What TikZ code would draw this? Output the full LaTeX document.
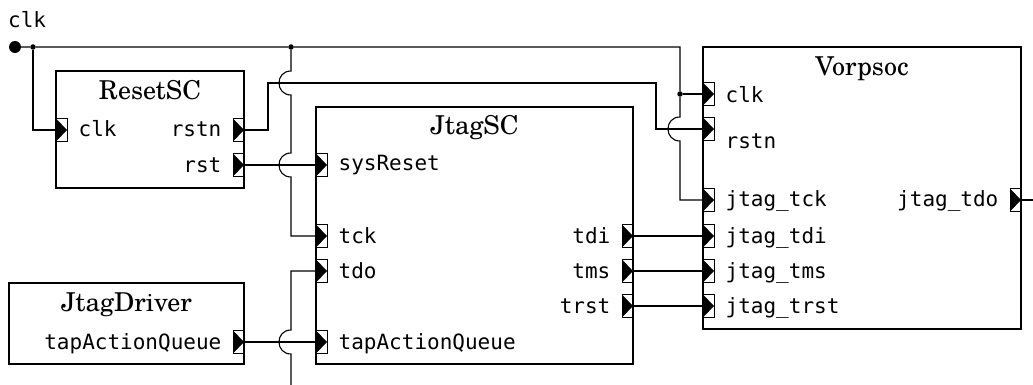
\documentclass[tikz,border=0pt]{standalone}
\usepackage{fontspec}
\setmonofont{DejaVu Sans Mono}
\newfontfamily\schola{TeX Gyre Schola}
\usetikzlibrary{positioning}

\begin{document}
\begin{tikzpicture}[x=1pt, y=-1pt,
	block/.style={draw, rectangle, inner sep=0pt, line width=1.1pt},
	port/.style={draw, rectangle, inner sep=0pt, minimum width=11pt, minimum height=23pt, line width=0.9pt,
		path picture={\fill (path picture bounding box.north west) -- (path picture bounding box.east) -- (path picture bounding box.south west) -- cycle;}},
	wire/.style={line width=1.1pt},
	title/.style={anchor=base, inner sep=0pt, font=\schola\fontsize{26}{30}\selectfont},
	sig/.style={inner sep=0pt, font=\ttfamily\fontsize{21}{25}\selectfont},
	joint/.style={circle, fill, inner sep=0pt, minimum size=5.5pt},
	bigdot/.style={circle, fill, inner sep=0pt, minimum size=12pt}]
	\useasboundingbox (0,0) rectangle (1033,385);

	% blocks
	\node[block, minimum width=188pt, minimum height=117pt] (rs) at (150,129.5) {};
	\node[block, minimum width=317pt, minimum height=257pt] (js) at (474.5,235.5) {};
	\node[block, minimum width=318pt, minimum height=282pt] (vp) at (862,188) {};
	\node[block, minimum width=235pt, minimum height=81pt] (jd) at (126.5,323.5) {};
	\node[title] (rs-title) at ([yshift=-29pt]rs.north) {ResetSC};
	\node[title] (js-title) at ([yshift=-28pt]js.north) {JtagSC};
	\node[title] (vp-title) at ([yshift=-29pt]vp.north) {Vorpsoc};
	\node[title] (jd-title) at ([yshift=-29pt]jd.north) {JtagDriver};

	% ports
	\node[port] (rs-clk) at (61.5,130) {};
	\node[port] (rs-rstn) at (238.5,130) {};
	\node[port] (rs-rst) at (238.5,165) {};
	\node[port] (js-sys) at (321.5,165) {};
	\node[port] (js-tck) at (321.5,236) {};
	\node[port] (js-tdo) at (321.5,271) {};
	\node[port] (js-tap) at (321.5,342) {};
	\node[port] (js-tdi) at (627.5,236) {};
	\node[port] (js-tms) at (627.5,271) {};
	\node[port] (js-trst) at (627.5,306) {};
	\node[port] (vp-clk) at (708.5,94) {};
	\node[port] (vp-rstn) at (708.5,129) {};
	\node[port] (vp-tck) at (708.5,200) {};
	\node[port] (vp-tdi) at (708.5,236) {};
	\node[port] (vp-tms) at (708.5,271) {};
	\node[port] (vp-trst) at (708.5,306) {};
	\node[port] (vp-tdo) at (1015.5,200) {};
	\node[port] (jd-tap) at (238.5,342) {};

	% port labels
	\node[sig, base right=11pt of rs-clk, yshift=-7pt] {clk};
	\node[sig, base left=11pt of rs-rstn, yshift=-7pt] {rstn};
	\node[sig, base left=11pt of rs-rst, yshift=-7pt] {rst};
	\node[sig, base right=11pt of js-sys, yshift=-6pt] {sysReset};
	\node[sig, base right=11pt of js-tck, yshift=-7pt] {tck};
	\node[sig, base right=11pt of js-tdo, yshift=-7pt] {tdo};
	\node[sig, base right=11pt of js-tap, yshift=-7pt] {tapActionQueue};
	\node[sig, base left=11pt of js-tdi, yshift=-7pt] {tdi};
	\node[sig, base left=11pt of js-tms, yshift=-7pt] {tms};
	\node[sig, base left=11pt of js-trst, yshift=-7pt] {trst};
	\node[sig, base right=11pt of vp-clk, yshift=-9pt] {clk};
	\node[sig, base right=11pt of vp-rstn, yshift=-19pt] {rstn};
	\node[sig, base right=11pt of vp-tck, yshift=-6pt] {jtag\_tck};
	\node[sig, base right=11pt of vp-tdi, yshift=-7pt] {jtag\_tdi};
	\node[sig, base right=11pt of vp-tms, yshift=-7pt] {jtag\_tms};
	\node[sig, base right=11pt of vp-trst, yshift=-7pt] {jtag\_trst};
	\node[sig, base left=11pt of vp-tdo, yshift=-6pt] {jtag\_tdo};
	\node[sig, base left=11pt of jd-tap, yshift=-7pt] {tapActionQueue};

	% clock input and joints
	\node[sig, anchor=base west] (clk-lbl) at (8,28) {clk};
	\node[bigdot] (clk) at (15,47) {};
	\node[joint] (j1) at (33,47) {};
	\node[joint] (j2) at (291,47) {};
	\node[joint] (j3) at (680,94) {};
	\coordinate (tdo-end) at (291,385);
	\coordinate (tdo-out) at (1033,200);

	% wires
	\draw[wire] (clk) -- (j1) -- (j2) -- (680,47) -- (j3) -- (680,117) .. controls (664,117) and (664,141) .. (680,141) |- (vp-tck.west);
	\draw[wire] (j3) -- (vp-clk.west);
	\draw[wire] (j1) |- (rs-clk.west);
	\draw[wire] (j2) -- (291,71) .. controls (275,71) and (275,95) .. (291,95) -- (291,153) .. controls (275,153) and (275,177) .. (291,177) |- (js-tck.west);
	\draw[wire] (rs-rstn.east) -- (268,130) -- (268,83) -- (656,83) |- (vp-rstn.west);
	\draw[wire] (rs-rst.east) -- (js-sys.west);
	\draw[wire] (js-tdo.west) -| (291,330) .. controls (275,330) and (275,354) .. (291,354) -- (tdo-end);
	\draw[wire] (jd-tap.east) -- (js-tap.west);
	\foreach \s in {tdi, tms, trst}
		\draw[wire] (js-\s.east) -- (vp-\s.west);
	\draw[wire] (vp-tdo.east) -- (tdo-out);
\end{tikzpicture}
\end{document}
